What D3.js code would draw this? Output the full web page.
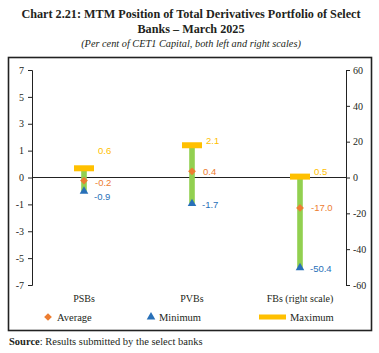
<!DOCTYPE html>
<html>
<head>
<meta charset="utf-8">
<script src="https://cdn.jsdelivr.net/npm/d3@7"></script>
<style>
  body { margin: 0; background: #fff; }
  svg { display: block; }
</style>
</head>
<body>
<div class="chart"></div>
<script>
const categories = ['PSBs', 'PVBs', 'FBs (right scale)'];
const axisSide = ['left', 'left', 'right'];
const maximum = [0.6, 2.1, 0.5];
const average = [-0.2, 0.4, -17.0];
const minimum = [-0.9, -1.7, -50.4];

const leftTickLabels = ['-7', '-5', '-3', '-1', '0', '1', '3', '5', '7'];
const rightTicks = [-60, -40, -20, 0, 20, 40, 60];

const W = 379, H = 353;
const plotTop = 70, plotBottom = 285;
const axisLeftX = 32, axisRightX = 346;

const colors = { max: '#FFC000', avg: '#ED7D31', min: '#2870B8', bar: '#92D050', text: '#231F20' };
const serif = '"Liberation Serif", "DejaVu Serif", serif';
const sans = '"Liberation Sans", Arial, sans-serif';

const svg = d3.select('.chart')
  .append('svg')
  .attr('width', W)
  .attr('height', H);

// titles
svg.append('text')
  .attr('x', 191).attr('y', 18)
  .attr('text-anchor', 'middle')
  .style('font-family', serif).style('font-weight', 'bold').style('font-size', '12.2px')
  .style('fill', colors.text)
  .text('Chart 2.21: MTM Position of Total Derivatives Portfolio of Select');
svg.append('text')
  .attr('x', 191).attr('y', 33)
  .attr('text-anchor', 'middle')
  .style('font-family', serif).style('font-weight', 'bold').style('font-size', '12.2px')
  .style('fill', colors.text)
  .text('Banks \u2013 March 2025');
svg.append('text')
  .attr('x', 191).attr('y', 47)
  .attr('text-anchor', 'middle')
  .style('font-family', serif).style('font-style', 'italic').style('font-size', '10.3px')
  .style('fill', colors.text)
  .text('(Per cent of CET1 Capital, both left and right scales)');

// frame
svg.append('rect')
  .attr('x', 8.5).attr('y', 57.5)
  .attr('width', 363).attr('height', 273)
  .attr('fill', 'none')
  .attr('stroke', '#222')
  .attr('stroke-width', 1.6);

// scales
const yLeft = d3.scaleLinear().domain([-7, 7]).range([plotBottom, plotTop]);
const yRight = d3.scaleLinear().domain([-60, 60]).range([plotBottom, plotTop]);
const x = d3.scaleBand().domain(categories).range([30, 354]);
const cx = d => x(d) + x.bandwidth() / 2;

// left axis: evenly spaced ticks with the printed labels
const leftTickVals = d3.range(leftTickLabels.length).map(i => -7 + i * 14 / (leftTickLabels.length - 1));
const leftAxis = d3.axisLeft(yLeft)
  .tickValues(leftTickVals)
  .tickFormat((d, i) => leftTickLabels[i])
  .tickSize(4)
  .tickPadding(4);
const gl = svg.append('g')
  .attr('transform', `translate(${axisLeftX}, 0)`)
  .call(leftAxis);

const rightAxis = d3.axisRight(yRight)
  .tickValues(rightTicks)
  .tickFormat(d => String(d))
  .tickSize(4)
  .tickPadding(3);
const gr = svg.append('g')
  .attr('transform', `translate(${axisRightX}, 0)`)
  .call(rightAxis);

[gl, gr].forEach(g => {
  g.selectAll('path, line').attr('stroke', '#222');
  g.selectAll('text')
    .style('font-family', serif).style('font-size', '10px').style('fill', colors.text);
});

// zero line
svg.append('line')
  .attr('x1', axisLeftX).attr('x2', axisRightX)
  .attr('y1', yLeft(0)).attr('y2', yLeft(0))
  .attr('stroke', '#222').attr('stroke-width', 1);

// category labels
svg.selectAll('.cat')
  .data(categories)
  .enter()
  .append('text')
  .attr('x', d => cx(d))
  .attr('y', 302)
  .attr('text-anchor', 'middle')
  .style('font-family', serif).style('font-size', '10px').style('fill', colors.text)
  .text(d => d);

const rows = categories.map((c, i) => ({
  cat: c,
  y: axisSide[i] === 'left' ? yLeft : yRight,
  max: maximum[i], avg: average[i], min: minimum[i]
}));

const fmt = v => v.toFixed(1);
const triangle = d3.symbol().type(d3.symbolTriangle).size(32);
const diamond = d3.symbol().type(d3.symbolSquare).size(30);

const g = svg.selectAll('.cat-g')
  .data(rows)
  .enter()
  .append('g')
  .attr('transform', d => `translate(${cx(d.cat)}, 0)`);

// green range bar
g.append('rect')
  .attr('x', -2.8)
  .attr('width', 5.6)
  .attr('y', d => d.y(d.max))
  .attr('height', d => d.y(d.min) - d.y(d.max))
  .attr('fill', colors.bar);

// maximum marker
g.append('rect')
  .attr('x', -10)
  .attr('width', 20)
  .attr('y', d => d.y(d.max) - 3)
  .attr('height', 6)
  .attr('fill', colors.max);

// average marker
g.append('path')
  .attr('d', diamond)
  .attr('transform', d => `translate(0, ${d.y(d.avg)}) rotate(45)`)
  .attr('fill', colors.avg);

// minimum marker
g.append('path')
  .attr('d', triangle)
  .attr('transform', d => `translate(0, ${d.y(d.min)})`)
  .attr('fill', colors.min);

// data labels
const lbl = (sel, key, color, dx, dyFn) => sel.append('text')
  .attr('x', dx)
  .attr('y', d => d.y(d[key]) + dyFn(d))
  .attr('dy', '0.35em')
  .style('font-family', sans).style('font-size', '9.5px').style('fill', color)
  .text(d => fmt(d[key]));

// spread labels apart when the markers are close together
const tight = d => d.y(d.min) - d.y(d.avg) < 14;
lbl(g, 'max', colors.max, 14, d => (d.y(d.avg) - d.y(d.max) < 20 ? -18 : -5));
lbl(g, 'avg', colors.avg, 11, d => (tight(d) ? 2.5 : 0));
lbl(g, 'min', colors.min, 10, d => (tight(d) ? 5 : 1));

// legend
const ly = 317;
svg.append('path')
  .attr('d', diamond)
  .attr('transform', `translate(48, ${ly}) rotate(45)`)
  .attr('fill', colors.avg);
svg.append('path')
  .attr('d', triangle)
  .attr('transform', `translate(151, ${ly})`)
  .attr('fill', colors.min);
svg.append('rect')
  .attr('x', 259).attr('y', ly - 2.5)
  .attr('width', 27).attr('height', 5)
  .attr('fill', colors.max);

[['Average', 57], ['Minimum', 159], ['Maximum', 290]].forEach(([t, lx]) => {
  svg.append('text')
    .attr('x', lx).attr('y', ly)
    .attr('dy', '0.35em')
    .style('font-family', serif).style('font-size', '10.5px').style('fill', colors.text)
    .text(t);
});

// source
const src = svg.append('text')
  .attr('x', 9).attr('y', 345)
  .style('font-family', serif).style('font-size', '10.5px').style('fill', colors.text);
src.append('tspan').style('font-weight', 'bold').text('Source');
src.append('tspan').text(': Results submitted by the select banks');
</script>
</body>
</html>
